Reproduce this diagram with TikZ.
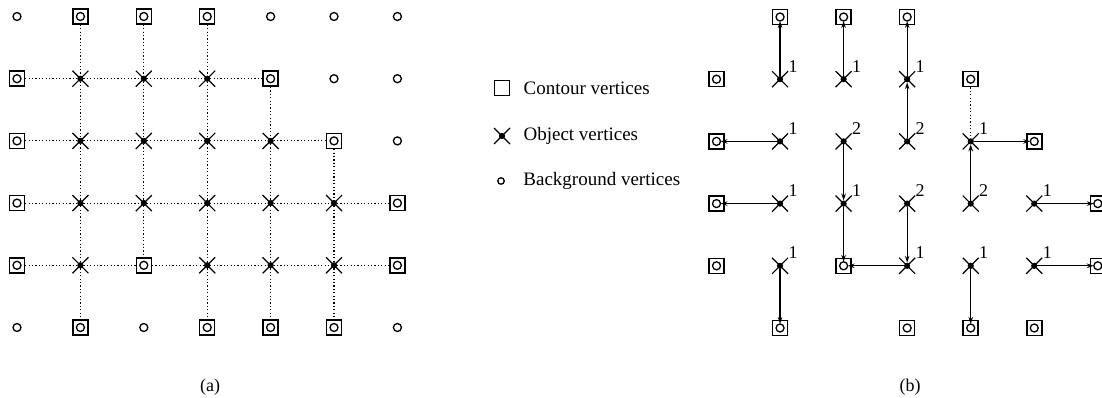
\documentclass[tikz,border=0pt]{standalone}
\usepackage{fontspec}
\setmainfont{Liberation Serif}
\usetikzlibrary{arrows.meta, positioning}

\begin{document}
\begin{tikzpicture}[
    x=1pt, y=-1pt,
    node distance=10pt,
    contourv/.style={rectangle, draw, line width=1.5pt, minimum size=15pt, inner sep=0pt,
                path picture={\draw[line width=1.3pt] (path picture bounding box.center) circle (4pt);}},
    objv/.style={circle, draw, fill=black, line width=0.6pt, minimum size=5.5pt, inner sep=0pt,
                append after command={
                  (\tikzlastnode.center) edge[xarm] +(8,8)
                  (\tikzlastnode.center) edge[xarm] +(-8,8)
                  (\tikzlastnode.center) edge[xarm] +(8,-8)
                  (\tikzlastnode.center) edge[xarm] +(-8,-8)}},
    xarm/.style={line width=1.2pt},
    backv/.style={circle, draw, line width=1.3pt, minimum size=8pt, inner sep=0pt},
    legsq/.style={rectangle, draw, line width=1.1pt, minimum size=15pt, inner sep=0pt},
    dotline/.style={line width=1.2pt, dash pattern=on 1.2pt off 2.2pt},
    arrow/.style={-{Stealth[length=7pt, width=4.5pt]}, line width=1.2pt},
    tag/.style={font=\fontsize{18}{20}\selectfont},
    legtext/.style={font=\fontsize{19}{22}\selectfont}
]
\useasboundingbox (0,0) rectangle (1102,398);

% (a) all vertices with their neighbour links
\foreach \c/\r in {1/0,2/0,3/0,0/1,4/1,0/2,5/2,0/3,6/3,0/4,2/4,6/4,1/5,3/5,4/5,5/5}
  \node[contourv] (a-\c-\r) at ({17+63.4*\c}, {16.5+62.2*\r}) {};
\foreach \c/\r in {1/1,2/1,3/1,1/2,2/2,3/2,4/2,1/3,2/3,3/3,4/3,5/3,1/4,3/4,4/4,5/4}
  \node[objv] (a-\c-\r) at ({17+63.4*\c}, {16.5+62.2*\r}) {};
\foreach \c/\r in {0/0,4/0,5/0,6/0,5/1,6/1,6/2,0/5,2/5,6/5}
  \node[backv] (a-\c-\r) at ({17+63.4*\c}, {16.5+62.2*\r}) {};

% rows
\foreach \r/\endc in {1/3,2/4,3/5,4/5}{
  \foreach \c in {0,...,\endc}{
    \pgfmathtruncatemacro{\nx}{\c+1}
    \draw[dotline] (a-\c-\r) -- (a-\nx-\r);
  }
}
% columns
\foreach \c/\startr/\endr in {1/0/4,2/0/3,3/0/4,4/1/4,5/2/4}{
  \foreach \r in {\startr,...,\endr}{
    \pgfmathtruncatemacro{\ny}{\r+1}
    \draw[dotline] (a-\c-\r) -- (a-\c-\ny);
  }
}

\node[tag] (cap-a) at (210,387) {(a)};

% Legend
\node[legsq] (leg-c) at (502,88) {};
\node[legtext, right=10pt of leg-c] (txt-c) {Contour vertices};
\node[objv] (leg-o) at (502,136) {};
\node[legtext, right=15pt of leg-o] (txt-o) {Object vertices};
\node[backv, minimum size=6.5pt] (leg-b) at (501,181) {};
\node[legtext, right=15pt of leg-b] (txt-b) {Background vertices};

% (b) contour vertices, objects with their distance
\foreach \c/\r in {1/0,2/0,3/0,0/1,4/1,0/2,5/2,0/3,6/3,0/4,2/4,6/4,1/5,3/5,4/5,5/5}
  \node[contourv] (b-\c-\r) at ({716.5+63.55*\c}, {17+62.2*\r}) {};
\foreach \c/\r/\k in {1/1/1,2/1/1,3/1/1,1/2/1,2/2/2,3/2/2,4/2/1,1/3/1,2/3/1,3/3/2,4/3/2,5/3/1,1/4/1,3/4/1,4/4/1,5/4/1}{
  \node[objv] (b-\c-\r) at ({716.5+63.55*\c}, {17+62.2*\r}) {};
  \node[tag] (d-\c-\r) at ([xshift=13pt, yshift=13pt]b-\c-\r.center) {\k};
}

% pointers to the contour
\foreach \s/\t in {1-1/1-0,2-1/2-0,3-1/3-0,1-2/0-2,4-2/5-2,1-3/0-3,2-3/2-4,5-3/6-3,1-4/1-5,3-4/2-4,4-4/4-5,5-4/6-4}
  \draw[arrow, shorten >=4pt] (b-\s) -- (b-\t.center);
% pointers to other objects
\foreach \s/\t in {3-2/3-1,2-2/2-3,4-3/4-2,3-3/3-4}
  \draw[arrow] (b-\s) -- (b-\t);
\draw[dotline] (b-4-1) -- (b-4-2);

\node[tag] (cap-b) at (910,387) {(b)};

\end{tikzpicture}
\end{document}
